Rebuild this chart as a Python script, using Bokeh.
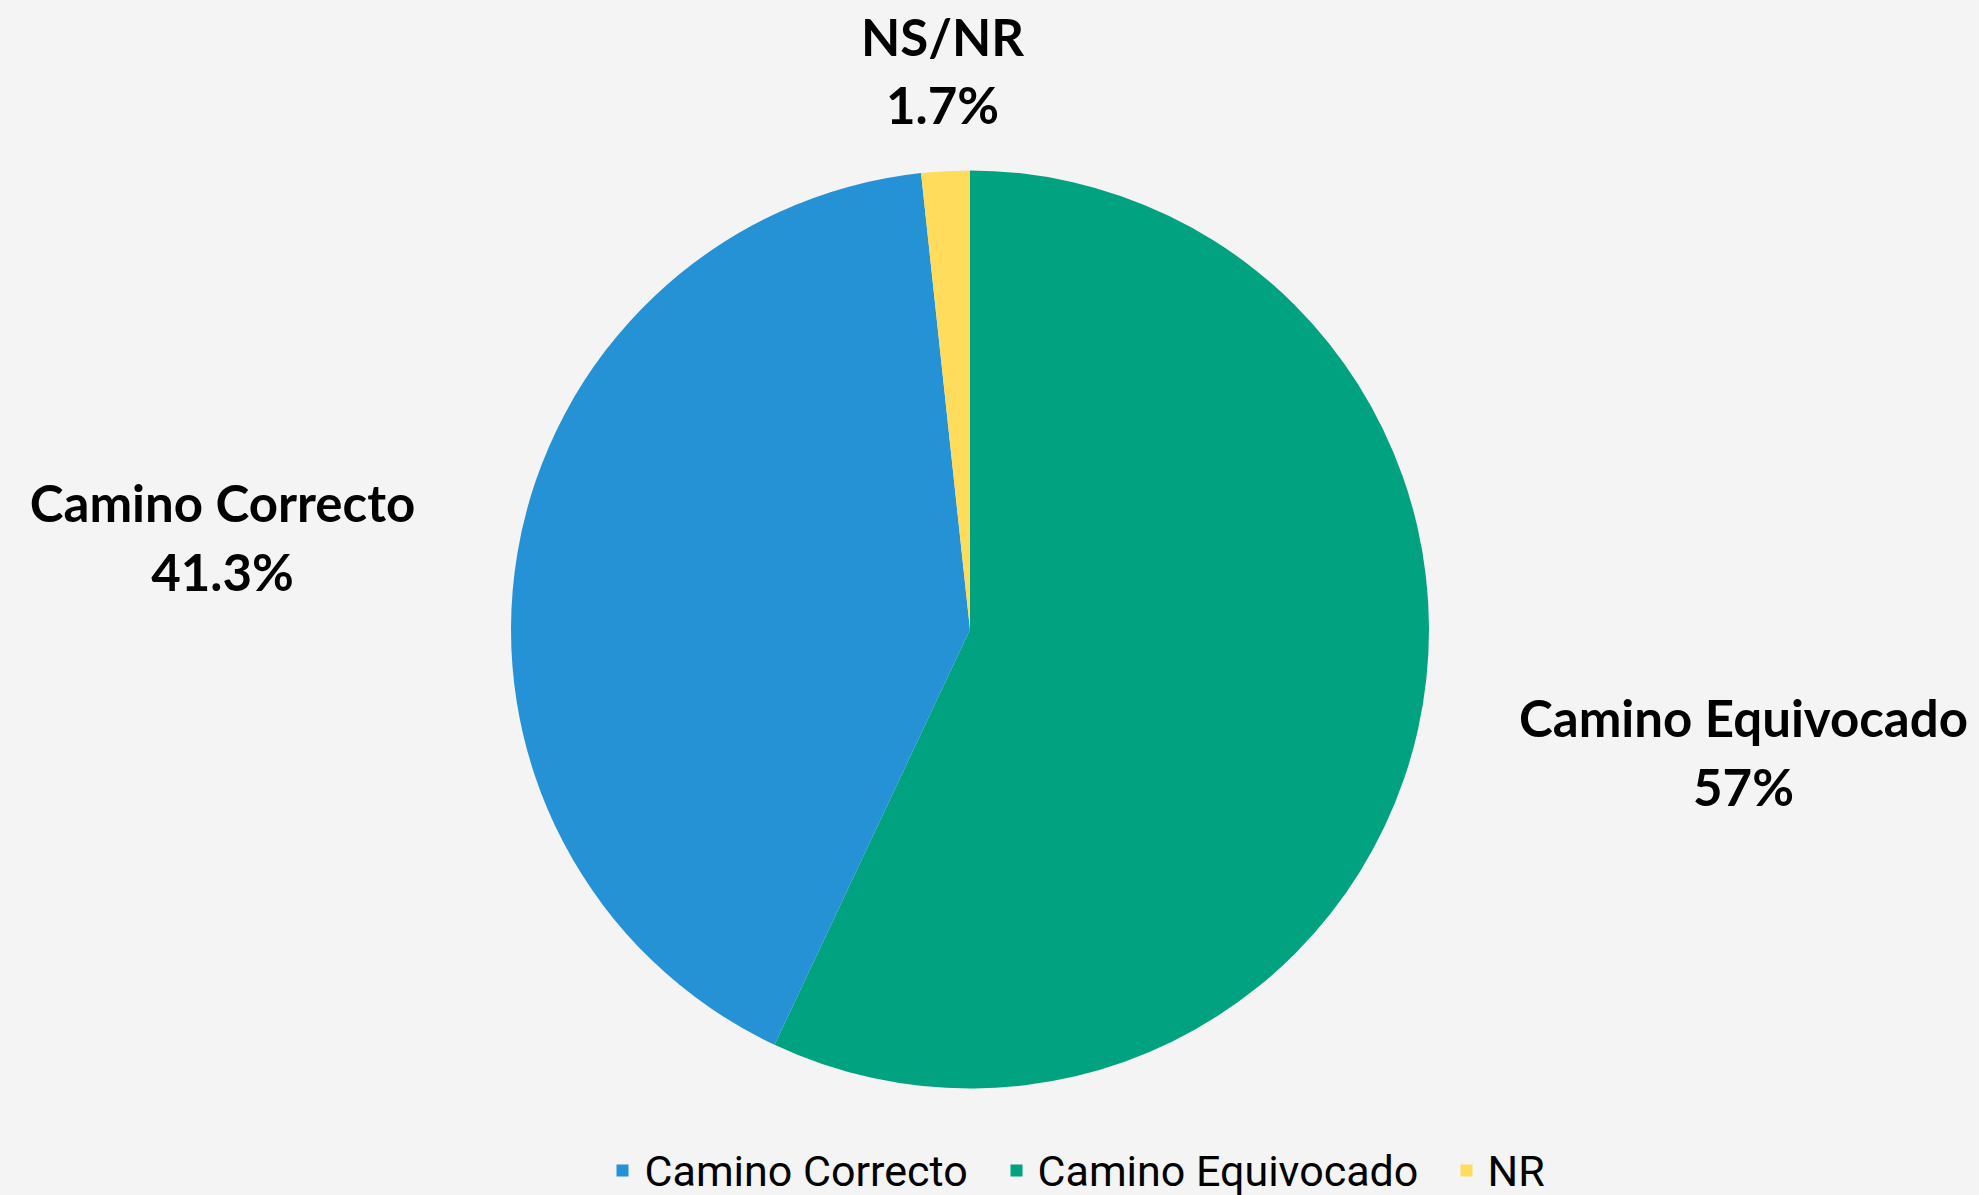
import math
from bokeh.plotting import figure
from bokeh.models import Range1d, ColumnDataSource
from bokeh.core.properties import value
from bokeh.embed import file_html
from bokeh.resources import INLINE

# ---- data ----
categories = ["Camino Equivocado", "Camino Correcto", "NR"]
values = [57.0, 41.3, 1.7]
label_names = ["Camino Equivocado", "Camino Correcto", "NS/NR"]
label_values = ["57%", "41.3%", "1.7%"]
legend_order = ["Camino Correcto", "Camino Equivocado", "NR"]
colors = {"Camino Correcto": "#2592D6", "Camino Equivocado": "#00A27F", "NR": "#FFDC5B"}

W, H = 1979, 1195

def fy(page_y):
    return H - page_y

p = figure(width=W, height=H, output_backend="svg", toolbar_location=None,
           x_range=Range1d(0, W), y_range=Range1d(0, H), min_border=0)
p.axis.visible = False
p.grid.visible = False
p.outline_line_color = None
p.background_fill_color = "#F4F4F4"
p.border_fill_color = "#F4F4F4"

# pie
cx, cy, r = 969.5, fy(629), 459
total = sum(values)
starts, ends = [], []
acc = 0.0
for v in values:
    starts.append(math.pi / 2 - 2 * math.pi * acc / total)
    acc += v
    ends.append(math.pi / 2 - 2 * math.pi * acc / total)
src = ColumnDataSource(dict(x=[cx] * len(values), y=[cy] * len(values),
                            start=starts, end=ends,
                            color=[colors[c] for c in categories]))
p.wedge(x="x", y="y", radius=r, start_angle="start", end_angle="end",
        direction="clock", fill_color="color", line_color=None, source=src)

# outside labels (page coords of text centre / baseline)
label_pos = [(1743, 717, 786), (222, 502, 571), (942, 36, 104)]
lfont = value("Lato")
for name, val, (px, b1, b2) in zip(label_names, label_values, label_pos):
    p.text(x=[px], y=[fy(b1)], text=[name], text_font=lfont, text_font_style="bold",
           text_font_size="51px", text_align="center", text_baseline="alphabetic",
           text_color="#000000")
    p.text(x=[px], y=[fy(b2)], text=[val], text_font=lfont, text_font_style="bold",
           text_font_size="51px", text_align="center", text_baseline="alphabetic",
           text_color="#000000")

# legend (manual)
sq_x = [622, 1016, 1466]
tx_x = [644, 1037, 1487]
for cat, sx, tx in zip(legend_order, sq_x, tx_x):
    p.scatter(x=[sx], y=[fy(1170)], marker="square", size=12,
              fill_color=colors[cat], line_color=None)
    p.text(x=[tx], y=[fy(1170)], text=[cat], text_font=value("Roboto"),
           text_font_size="43px", text_align="left", text_baseline="alphabetic",
           text_color="#000000")

html = file_html(p, INLINE)
html = html.replace("<head>", "<head><style>body{background:#F4F4F4;}</style>", 1)
open("out.html", "w").write(html)
